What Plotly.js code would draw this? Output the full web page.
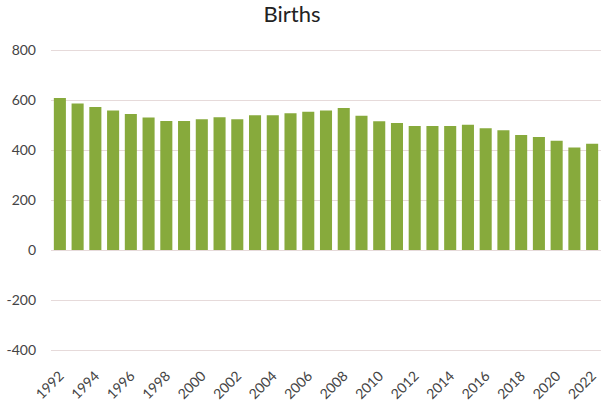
<!DOCTYPE html>
<html><head><meta charset="utf-8">
<script src="https://cdn.plot.ly/plotly-3.0.1.min.js"></script>
<style>html,body{margin:0;padding:0;background:#fff;}#chart{width:601px;height:401px;}</style>
</head><body><div id="chart"></div>
<script>
const years = ["1992","1993","1994","1995","1996","1997","1998","1999","2000","2001","2002","2003","2004","2005","2006","2007","2008","2009","2010","2011","2012","2013","2014","2015","2016","2017","2018","2019","2020","2021","2022"];
const births = [608,586,572,558,544,530,516,516,523,531,523,539,539,547,553,558,568,537,515,508,496,496,496,501,487,479,460,452,437,410,425];
const tickYears = ["1992","1994","1996","1998","2000","2002","2004","2006","2008","2010","2012","2014","2016","2018","2020","2022"];
const yTicks = [-400,-200,0,200,400,600,800];

Plotly.newPlot('chart', [{
  type: 'bar', x: years, y: births,
  marker: {color: '#87aa3c'}, hoverinfo: 'x+y'
}], {
  width: 601, height: 401,
  margin: {l: 51, r: 0, t: 48, b: 49},
  paper_bgcolor: '#fff', plot_bgcolor: '#fff',
  bargap: 0.32,
  font: {family: 'Lato, "DejaVu Sans", sans-serif', color: '#444', size: 14},
  title: {text: 'Births', x: 0.486, xanchor: 'center', y: 0.965, yanchor: 'middle', font: {size: 22, color: '#222'}},
  xaxis: {type: 'category', tickmode: 'array', tickvals: tickYears, ticktext: tickYears,
    tickangle: -45, showgrid: false, zeroline: false, showline: false, ticks: '', range: [-0.5, 30.5],
    ticklabelstandoff: 12, tickfont: {size: 14, color: '#444'}},
  yaxis: {range: [-408, 808], tickmode: 'array', tickvals: yTicks, ticktext: yTicks.map(String),
    showgrid: true, gridcolor: '#e6dada', gridwidth: 1, zeroline: false, showline: false, ticks: '',
    ticklabelstandoff: 14, tickfont: {size: 14, color: '#444'}}
}, {displayModeBar: false, staticPlot: true});
</script></body></html>
